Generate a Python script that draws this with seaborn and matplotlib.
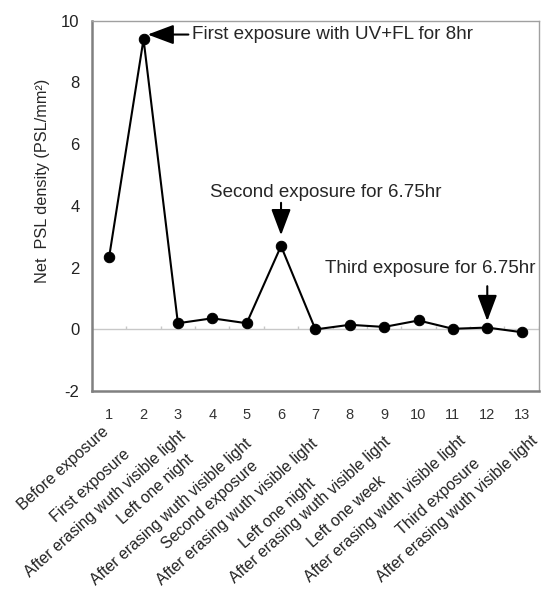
import numpy as np
import pandas as pd
import matplotlib
matplotlib.use("Agg")
import matplotlib.pyplot as plt
import seaborn as sns

# Data
steps = list(range(1, 14))
psl = [2.35, 9.4, 0.2, 0.36, 0.2, 2.7, 0.0, 0.15, 0.08, 0.29, 0.02, 0.06, -0.09]
step_names = ["Before exposure", "First exposure", "After erasing wuth visible light",
              "Left one night", "After erasing wuth visible light", "Second exposure",
              "After erasing wuth visible light", "Left one night",
              "After erasing wuth visible light", "Left one week",
              "After erasing wuth visible light", "Third exposure",
              "After erasing wuth visible light"]

# where each slanted name ends, in px from its tick (x) and below the frame (y),
# the original has them staggered
name_dx = [-2, -15, 6, -20, 3, -25, 0, -36, 5, -35, 11, -9, 14]
name_drop = [37, 59, 41, 64, 49, 71, 49, 88, 47, 86, 46, 69, 46]

df = pd.DataFrame({"step": steps, "psl": psl})

sns.set_style("white")
plt.rcParams["font.family"] = ["Liberation Sans", "DejaVu Sans"]
plt.rcParams["axes.unicode_minus"] = False

fig = plt.figure(figsize=(5.41, 5.90), dpi=100)
ax = fig.add_axes([0.170, 0.337, 0.826, 0.628])

# zero line with small category ticks
ax.axhline(0, color="#c8c8c8", lw=1.0, zorder=1)
ax.vlines(np.arange(0.5, len(steps) + 1, 1), 0, 0.1, color="#c8c8c8", lw=1.0, zorder=1)

sns.lineplot(data=df, x="step", y="psl", color="black", lw=1.5, marker="o",
             markersize=7.5, markeredgecolor="black", ax=ax, zorder=3)

ax.set_xlim(0.5, 13.5)
ax.set_ylim(-2, 10)
ax.set_yticks([-2, 0, 2, 4, 6, 8, 10])
ax.set_xticks(steps)
ax.set_xticklabels([str(s) for s in steps], fontsize=10.5, color="#333333")
ax.tick_params(axis="x", length=0, pad=12)
ax.tick_params(axis="y", direction="in", length=3, color="#999999", labelsize=12,
               pad=9, labelcolor="#222222")
ax.set_xlabel("")
ax.set_ylabel("Net  PSL density (PSL/mm²)", fontsize=11.7)
ax.yaxis.set_label_coords(-0.093, 0.567)

for side in ["top", "right"]:
    ax.spines[side].set_color("#a0a0a0")
    ax.spines[side].set_linewidth(1.0)
for side in ["left", "bottom"]:
    ax.spines[side].set_color("#808080")
    ax.spines[side].set_linewidth(1.8)

# rotated step names under the numbers
for st, name, dx, drop in zip(steps, step_names, name_dx, name_drop):
    ax.annotate(name, xy=(st, 0), xycoords=ax.get_xaxis_transform(),
                xytext=(dx - 5.5, -(drop - 4)), textcoords="offset pixels",
                rotation=42, rotation_mode="anchor", ha="right", va="top",
                fontsize=11.4, color="#222222")

arrow = dict(arrowstyle="-|>,head_length=0.8,head_width=0.3", color="black",
             lw=1.5, mutation_scale=20, shrinkA=0, shrinkB=0)

ax.annotate("First exposure with UV+FL for 8hr", xy=(2.12, 9.55), xytext=(3.4, 9.55),
            ha="left", va="center", fontsize=13.6, arrowprops=arrow)
ax.text(7.3, 4.45, "Second exposure for 6.75hr", ha="center", va="center", fontsize=13.5)
ax.annotate("", xy=(6, 3.05), xytext=(6, 4.1), arrowprops=arrow)
ax.text(10.35, 1.97, "Third exposure for 6.75hr", ha="center", va="center", fontsize=13.5)
ax.annotate("", xy=(12, 0.27), xytext=(12, 1.4), arrowprops=arrow)

fig.savefig("out.png", dpi=100)
